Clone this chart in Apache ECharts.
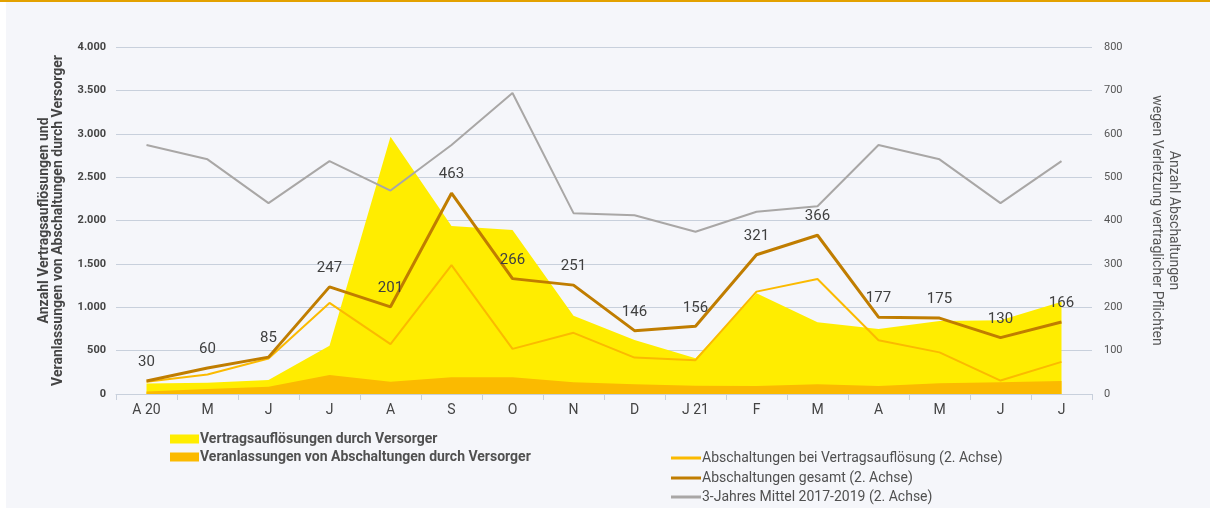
<!DOCTYPE html>
<html>
<head>
<meta charset="utf-8">
<script src="https://cdn.jsdelivr.net/npm/echarts@6/dist/echarts.min.js"></script>
<style>
html,body{margin:0;padding:0;background:#ffffff;}
#frame{position:absolute;left:6px;top:0;width:1204px;height:508px;background:#F5F6FA;}
#topline{position:absolute;left:0;top:0;width:1210px;height:2px;background:#E3A100;}
#chart{position:absolute;left:0;top:0;width:1210px;height:508px;}
</style>
</head>
<body>
<div id="frame"></div>
<div id="topline"></div>
<div id="chart"></div>
<script>
const categories = ['A 20','M','J','J','A','S','O','N','D','J 21','F','M','A','M','J','J'];
const vertragsaufloesungen = [120,130,160,557,2965,1937,1890,903,622,413,1160,826,749,841,849,1064];
const veranlassungen = [30,58,85,219,142,192,192,135,111,96,92,111,92,123,135,150];
const abschBeiVertrag = [28,45,82,210,115,297,104,141,84,78,236,265,124,96,31,74];
const abschGesamt = [30,60,85,247,201,463,266,251,146,156,321,366,177,175,130,166];
const mittel = [574,541,440,537,469,574,694,417,412,374,420,433,574,541,440,537];

const FONT = 'Roboto, "Liberation Sans", sans-serif';
const chart = echarts.init(document.getElementById('chart'), null, {renderer:'canvas'});
const fmt = v => v.toLocaleString('de-DE');

function lineLegend(name, color, top) {
  return {
    left: 666, top: top, orient: 'vertical',
    itemWidth: 30, itemHeight: 3, selectedMode:false, icon:'rect',
    textStyle: {fontFamily: FONT, fontSize: 14, color:'#505050', padding:[0,0,0,-4]},
    data: [{name: name, icon:'rect', itemStyle:{color: color, opacity:1}}]
  };
}

chart.setOption({
  backgroundColor: 'transparent',
  animation: false,
  textStyle: {fontFamily: FONT},
  grid: {left:116, right:118, top:47, bottom:114, containLabel:false},
  legend: [
    {
      left: 165, top: 427, orient: 'vertical', itemGap: 4,
      itemWidth: 29, itemHeight: 9, icon: 'rect', selectedMode:false,
      textStyle: {fontFamily: FONT, fontSize: 14, fontWeight: 'bold', color:'#505050', padding:[0,0,0,-4]},
      data: ['Vertragsauflösungen durch Versorger','Veranlassungen von Abschaltungen durch Versorger']
    },
    lineLegend('Abschaltungen bei Vertragsauflösung (2. Achse)', '#FBBA00', 446),
    lineLegend('Abschaltungen gesamt (2. Achse)', '#C07D00', 466),
    lineLegend('3-Jahres Mittel 2017-2019 (2. Achse)', '#A9A7A6', 485)
  ],
  xAxis: {
    type: 'category', data: categories, boundaryGap: true,
    axisLine: {show:true, lineStyle:{color:'#C8D0DC', width:1}},
    axisTick: {show:true, length:6, lineStyle:{color:'#C8D0DC'}},
    axisLabel: {color:'#444', fontSize:14, margin:9, fontFamily: FONT}
  },
  yAxis: [
    {
      type:'value', min:0, max:4000, interval:500, position:'left',
      name: 'Anzahl Vertragsauflösungen und\nVeranlassungen von Abschaltungen durch Versorger',
      nameLocation:'middle', nameRotate:90, nameGap:51,
      nameTextStyle:{fontFamily: FONT, fontSize:14, fontWeight:'bold', color:'#444', lineHeight:14},
      axisLine:{show:false}, axisTick:{show:false},
      axisLabel:{color:'#444', fontSize:11, fontWeight:'bold', margin:10, formatter: v => fmt(v)},
      splitLine:{show:true, lineStyle:{color:'#C8D0DC', width:1}}
    },
    {
      type:'value', min:0, max:800, interval:100, position:'right',
      name: 'Anzahl Abschaltungen\nwegen Verletzung vertraglicher Pflichten',
      nameLocation:'middle', nameRotate:-90, nameGap:56,
      nameTextStyle:{fontFamily: FONT, fontSize:14, color:'#555', lineHeight:17},
      axisLine:{show:false}, axisTick:{show:false},
      axisLabel:{color:'#555', fontSize:11, margin:12},
      splitLine:{show:false}
    }
  ],
  series: [
    {
      name:'Vertragsauflösungen durch Versorger', type:'line', yAxisIndex:0,
      data: vertragsaufloesungen, symbol:'none', color:'#FFED00',
      lineStyle:{width:0}, areaStyle:{color:'#FFED00', opacity:1}, z:1
    },
    {
      name:'Veranlassungen von Abschaltungen durch Versorger', type:'line', yAxisIndex:0,
      data: veranlassungen, symbol:'none', color:'#FBBA00',
      lineStyle:{width:0}, areaStyle:{color:'#FBBA00', opacity:1}, z:2
    },
    {
      name:'Abschaltungen bei Vertragsauflösung (2. Achse)', type:'line', yAxisIndex:1,
      data: abschBeiVertrag, symbol:'none', color:'#FBBA00',
      lineStyle:{width:2, color:'#FBBA00'}, z:3
    },
    {
      name:'3-Jahres Mittel 2017-2019 (2. Achse)', type:'line', yAxisIndex:1,
      data: mittel, symbol:'none', color:'#A9A7A6',
      lineStyle:{width:2, color:'#A9A7A6'}, z:3
    },
    {
      name:'Abschaltungen gesamt (2. Achse)', type:'line', yAxisIndex:1,
      data: abschGesamt, symbol:'circle', symbolSize:2, showSymbol:true,
      itemStyle:{color:'rgba(0,0,0,0)', borderWidth:0},
      lineStyle:{width:3, color:'#C07D00'}, z:4,
      label:{show:true, position:'top', distance:10, color:'#404040', fontSize:15, fontFamily: FONT}
    }
  ]
});
</script>
</body>
</html>
